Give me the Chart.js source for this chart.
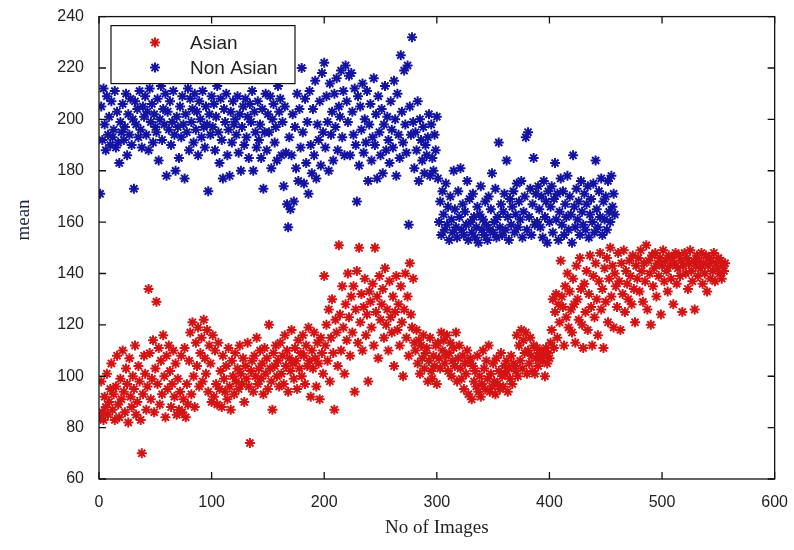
<!DOCTYPE html>
<html>
<head>
<meta charset="utf-8">
<script src="https://cdn.jsdelivr.net/npm/chart.js@4/dist/chart.umd.min.js"></script>
<style>
  html, body { margin: 0; padding: 0; background: #fff; }
  #wrap { width: 794px; height: 550px; }
</style>
</head>
<body>
<div id="wrap"><canvas id="chart" width="794" height="550"></canvas></div>
<script>
// Mean value per image, one entry per image index (1..N)
const asianMean = [
  84, 98, 86, 83, 92, 88, 101, 85, 90, 95,
  105, 87, 93, 83, 96, 108, 89, 84, 99, 91,
  110, 94, 86, 103, 97, 82, 107, 92, 88, 100,
  95, 112, 85, 90, 104, 98, 83, 70, 93, 108,
  101, 87, 96, 134, 109, 91, 99, 114, 86, 103,
  129, 97, 111, 89, 106, 93, 116, 100, 84, 108,
  95, 112, 102, 88, 97, 110, 92, 105, 85, 99,
  87, 94, 108, 86, 91, 111, 84, 97, 89, 106,
  117, 93, 121, 100, 88, 113, 104, 119, 96, 109,
  115, 98, 122, 107, 101, 118, 94, 112, 105, 90,
  116, 92, 110, 97, 89, 113, 95, 102, 88, 108,
  99, 94, 104, 91, 111, 96, 87, 106, 100, 93,
  109, 98, 103, 95, 112, 101, 97, 107, 90, 104,
  99, 113, 96, 74, 102, 106, 94, 108, 100, 115,
  97, 103, 110, 99, 105, 93, 111, 101, 107, 95,
  120, 103, 98, 87, 109, 104, 112, 100, 106, 96,
  113, 101, 108, 97, 116, 104, 110, 94, 107, 102,
  118, 105, 99, 111, 106, 95, 114, 103, 109, 100,
  116, 108, 97, 112, 104, 119, 106, 92, 110, 103,
  117, 107, 96, 113, 105, 91, 115, 109, 101, 139,
  112, 120, 106, 126, 98, 115, 130, 109, 87, 122,
  117, 104, 151, 124, 110, 135, 119, 101, 128, 114,
  140, 123, 108, 131, 117, 135, 94, 126, 141, 113,
  150, 121, 132, 110, 127, 138, 116, 124, 98, 133,
  129, 119, 136, 112, 150, 125, 131, 107, 139, 122,
  128, 134, 115, 142, 120, 126, 110, 137, 123, 117,
  131, 104, 125, 139, 118, 128, 112, 135, 121, 100,
  126, 140, 115, 131, 108, 144, 124, 119, 138, 113,
  110, 118, 105, 114, 101, 112, 107, 116, 103, 109,
  111, 98, 106, 115, 102, 99, 108, 104, 112, 97,
  113, 107, 103, 117, 110, 114, 105, 108, 116, 102,
  109, 113, 100, 106, 111, 104, 117, 98, 107, 112,
  103, 99, 108, 95, 105, 101, 110, 93, 106, 107,
  91, 104, 98, 102, 96, 108, 94, 100, 92, 97,
  110, 103, 95, 106, 99, 112, 94, 101, 96, 105,
  98, 93, 107, 97, 102, 95, 109, 100, 96, 104,
  101, 106, 94, 103, 99, 108, 97, 105, 104, 102,
  116, 100, 112, 106, 118, 103, 114, 109, 117, 101,
  110, 105, 115, 108, 102, 112, 101, 107, 111, 104,
  109, 107, 110, 106, 108, 100, 111, 105, 109, 107,
  113, 118, 130, 111, 125, 132, 115, 128, 121, 145,
  131, 127, 112, 135, 123, 140, 119, 133, 126, 117,
  138, 128, 113, 143, 130, 122, 146, 134, 120, 111,
  136, 125, 141, 118, 132, 147, 127, 112, 139, 123,
  144, 130, 116, 137, 148, 126, 134, 111, 142, 129,
  146, 121, 138, 150, 131, 143, 119, 140, 135, 127,
  148, 137, 118, 144, 132, 149, 125, 141, 136, 130,
  145, 139, 128, 147, 134, 121, 143, 138, 146, 133,
  149, 141, 129, 144, 137, 151, 126, 145, 140, 120,
  147, 135, 142, 148, 131, 144, 139, 146, 124, 143,
  149, 137, 145, 141, 133, 147, 143, 138, 146, 128,
  144, 148, 136, 142, 147, 139, 145, 125, 143, 148,
  140, 146, 134, 144, 149, 141, 137, 145, 126, 143,
  147, 139, 145, 142, 148, 136, 144, 140, 147, 133,
  143, 146, 138, 145, 141, 148, 137, 144, 142, 146,
  140, 145, 138, 143, 141, 144
];

const nonAsianMean = [
  171, 205, 192, 212, 198, 188, 209, 194, 201, 190,
  207, 193, 196, 211, 189, 203, 191, 183, 199, 195,
  206, 192, 197, 210, 186, 202, 194, 208, 190, 200,
  173, 207, 198, 204, 193, 211, 196, 189, 205, 201,
  209, 194, 203, 188, 212, 199, 206, 191, 202, 197,
  195, 208, 184, 200, 213, 192, 204, 198, 210, 178,
  203, 196, 207, 190, 199, 211, 194, 180, 201, 197,
  185, 205, 193, 209, 198, 177, 202, 195, 212, 188,
  208, 199, 204, 191, 210, 196, 203, 186, 207, 200,
  193, 211, 197, 189, 205, 198, 172, 202, 194, 209,
  197, 206, 188, 201, 213, 195, 183, 208, 192, 177,
  204, 199, 210, 186, 196, 178, 203, 191, 207, 198,
  200, 194, 209, 187, 202, 180, 197, 205, 190, 208,
  193, 201, 185, 206, 199, 211, 180, 203, 195, 189,
  207, 192, 198, 185, 204, 173, 195, 210, 188, 202,
  195, 209, 181, 200, 206, 191, 197, 184, 213, 203,
  208, 186, 199, 174, 205, 187, 167, 158, 193, 165,
  186, 202, 168, 197, 181, 210, 176, 204, 189, 220,
  195, 175, 208, 183, 199, 171, 211, 190, 179, 204,
  186, 215, 177, 198, 192, 207, 182, 218, 195, 222,
  189, 209, 199, 180, 214, 194, 203, 184, 210, 197,
  216, 188, 205, 201, 219, 193, 211, 186, 221, 207,
  199, 217, 186, 218, 203, 194, 212, 190, 168, 209,
  182, 205, 196, 214, 187, 200, 191, 211, 176, 198,
  206, 184, 193, 216, 190, 202, 177, 209, 195, 186,
  204, 179, 198, 213, 188, 201, 192, 183, 207, 196,
  189, 215, 200, 178, 210, 194, 185, 225, 203, 191,
  219, 198, 187, 221, 159, 205, 194, 232, 199, 181,
  195, 188, 207, 176, 200, 192, 184, 197, 179, 190,
  186, 193, 202, 178, 198, 185, 180, 194, 188, 201,
  177, 160, 168, 155, 172, 163, 157, 175, 159, 166,
  153, 170, 161, 156, 180, 165, 158, 154, 172, 162,
  181, 157, 167, 155, 164, 159, 176, 153, 169, 160,
  156, 171, 162, 154, 158, 166, 152, 163, 174, 157,
  161, 155, 168, 159, 153, 170, 157, 165, 179, 156,
  160, 173, 154, 162, 191, 158, 167, 155, 164, 171,
  157, 184, 162, 153, 169, 159, 166, 172, 156, 163,
  175, 158, 168, 161, 176, 154, 164, 170, 193, 157,
  195, 162, 173, 155, 167, 185, 159, 171, 160, 174,
  165, 158, 170, 154, 176, 162, 168, 152, 172, 160,
  166, 174, 156, 169, 183, 161, 171, 153, 164, 177,
  159, 172, 155, 167, 162, 178, 157, 170, 163, 152,
  186, 166, 158, 173, 161, 168, 155, 176, 164, 159,
  171, 157, 167, 174, 154, 163, 169, 160, 175, 156,
  184, 165, 158, 172, 162, 177, 155, 168, 161, 170,
  157, 176, 164, 160, 178, 166, 171, 163
];

const seriesNames = ['Asian', 'Non Asian'];
const seriesColors = ['#d41414', '#1414a2'];
const xTicks = [0, 100, 200, 300, 400, 500, 600];
const yTicks = [60, 80, 100, 120, 140, 160, 180, 200, 220, 240];

const tickFont = { family: 'Liberation Sans, Arial, sans-serif', size: 16 };
const titleFont = '19px "Liberation Serif", "Times New Roman", serif';

function toPoints(values) {
  return values.map((v, i) => ({ x: i + 1, y: v }));
}

// Box around the axes, inward ticks on all four sides, axis titles and legend
const matlabFrame = {
  id: 'matlabFrame',
  afterDatasetsDraw(chart) {
    const ctx = chart.ctx;
    const area = chart.chartArea;
    const xs = chart.scales.x;
    const ys = chart.scales.y;
    const tick = 7;

    ctx.save();
    ctx.strokeStyle = '#111';
    ctx.lineWidth = 1.3;
    ctx.strokeRect(area.left, area.top, area.right - area.left, area.bottom - area.top);

    ctx.beginPath();
    xTicks.forEach(v => {
      const px = xs.getPixelForValue(v);
      ctx.moveTo(px, area.bottom);
      ctx.lineTo(px, area.bottom - tick);
      ctx.moveTo(px, area.top);
      ctx.lineTo(px, area.top + tick);
    });
    yTicks.forEach(v => {
      const py = ys.getPixelForValue(v);
      ctx.moveTo(area.left, py);
      ctx.lineTo(area.left + tick, py);
      ctx.moveTo(area.right, py);
      ctx.lineTo(area.right - tick, py);
    });
    ctx.stroke();

    // legend box in the upper left corner
    const lx = area.left + 12, ly = area.top + 9, lw = 184, lh = 58;
    ctx.fillStyle = '#fff';
    ctx.fillRect(lx, ly, lw, lh);
    ctx.lineWidth = 1.2;
    ctx.strokeRect(lx, ly, lw, lh);

    ctx.font = '19px "Liberation Sans", Arial, sans-serif';
    ctx.textBaseline = 'middle';
    ctx.textAlign = 'left';
    chart.data.datasets.forEach((ds, i) => {
      const cy = ly + 17 + i * 25;
      ctx.strokeStyle = ds.borderColor;
      ctx.fillStyle = ds.backgroundColor;
      ctx.lineWidth = 2;
      Chart.helpers.drawPoint(ctx, { pointStyle: 'star', radius: 5, borderWidth: 2, rotation: 0 }, lx + 44, cy);
      ctx.fillStyle = '#222';
      ctx.fillText(ds.label, lx + 79, cy + 1);
    });

    // axis titles
    ctx.fillStyle = '#222';
    ctx.font = titleFont;
    ctx.textAlign = 'center';
    ctx.fillText('No of Images', (area.left + area.right) / 2, 528);
    ctx.translate(24, 220);
    ctx.rotate(-Math.PI / 2);
    ctx.fillStyle = '#1c2440';
    ctx.fillText('mean', 0, 0);
    ctx.restore();
  }
};

new Chart(document.getElementById('chart'), {
  type: 'scatter',
  data: {
    datasets: [
      {
        label: seriesNames[0],
        data: toPoints(asianMean),
        borderColor: seriesColors[0],
        backgroundColor: seriesColors[0],
        order: 2
      },
      {
        label: seriesNames[1],
        data: toPoints(nonAsianMean),
        borderColor: seriesColors[1],
        backgroundColor: seriesColors[1],
        order: 1
      }
    ]
  },
  options: {
    responsive: false,
    animation: false,
    layout: { padding: { left: 0, right: 17, top: 15, bottom: 0 } },
    elements: {
      point: { pointStyle: 'star', radius: 5, borderWidth: 2, hoverRadius: 5 }
    },
    plugins: {
      legend: { display: false },
      tooltip: { enabled: false }
    },
    scales: {
      x: {
        type: 'linear',
        min: 0,
        max: 600,
        afterBuildTicks: s => { s.ticks = xTicks.map(v => ({ value: v })); },
        afterFit: s => { s.height = 71; },
        grid: { display: false },
        border: { display: false },
        ticks: { font: tickFont, color: '#222', padding: 6, maxRotation: 0 }
      },
      y: {
        type: 'linear',
        min: 60,
        max: 240,
        afterBuildTicks: s => { s.ticks = yTicks.map(v => ({ value: v })); },
        afterFit: s => { s.width = 99; },
        grid: { display: false },
        border: { display: false },
        ticks: { font: tickFont, color: '#222', padding: 7 }
      }
    }
  },
  plugins: [matlabFrame]
});
</script>
</body>
</html>
